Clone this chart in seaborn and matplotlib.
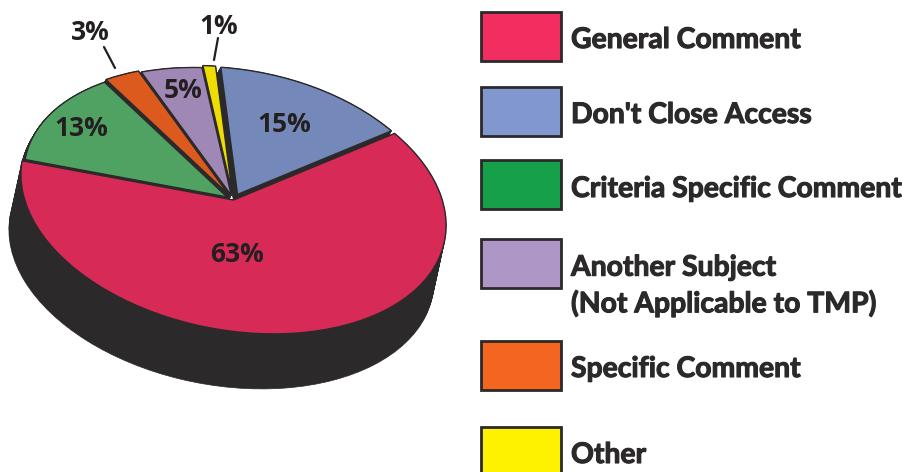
import numpy as np
import seaborn as sns
import matplotlib
matplotlib.use("Agg")
import matplotlib.pyplot as plt
import matplotlib.patheffects as pe
from matplotlib.patches import Rectangle
from matplotlib.transforms import Affine2D

sns.set_theme(style="white")
plt.rcParams['font.family'] = ['Open Sans', 'DejaVu Sans']

# values, counter clockwise starting with the big slice
categories = ["General Comment", "Don't Close Access", "Other", "Another Subject", "Specific Comment", "Criteria Specific Comment"]
values = [63, 15, 1, 5, 3, 13]
top_colors = ["#D82A57", "#7488BA", "#EDDD00", "#9F88B5", "#DC5A1E", "#50A263"]
explode = [0, 0.05, 0.05, 0.035, 0.045, 0.035]

legend_labels = ["General Comment", "Don't Close Access", "Criteria Specific Comment",
                 "Another Subject\n(Not Applicable to TMP)", "Specific Comment", "Other"]
legend_colors = ["#F22E60", "#8197CF", "#16A04A", "#AE97C7", "#F46520", "#FFF200"]

DARK = "#2B292A"
W, H = 903, 472

fig = plt.figure(figsize=(W / 100, H / 100), dpi=100)
ax = fig.add_axes([0, 0, 1, 1])


def flip(y):
    # picture coordinates run downwards
    return H - y


def disc(dx=0, dy=0):
    # unit circle -> tilted ellipse on the page
    return (Affine2D().scale(215, 130).rotate_deg(-10.8).translate(233.5 + dx, flip(200) - dy)
            + ax.transData)


def draw_layer(colors, idx, dx, dy, z, lw, radius=1):
    wedges, _ = ax.pie(values, explode=explode, colors=colors, startangle=180.5, counterclock=True,
                       radius=radius, frame=True, wedgeprops={'edgecolor': DARK, 'linewidth': lw})
    for i, w in enumerate(wedges):
        if i in idx:
            w.set_transform(disc(dx, dy))
            w.set_zorder(z)
        else:
            w.remove()


# side of the pie: dark copies going down, small slices first so the big one covers them
others = [1, 2, 3, 4, 5]
dark_colors = [DARK] * len(values)
for t in np.linspace(0, 1, 40):
    draw_layer(dark_colors, others, -4 * t, 7 * t, 1, 0.5, radius=0.955)
    draw_layer(dark_colors, [0], -12 * t, 55 * t, 3, 0.5)

draw_layer(top_colors, others, 0, 0, 2, 1.0, radius=0.955)

# thin facet lines on the side
for ang in np.radians(list(range(196, 266, 10)) + [300, 320, 332, 342]):
    p0 = disc().transform((np.cos(ang), np.sin(ang)))
    p1 = disc(-12, 55).transform((np.cos(ang), np.sin(ang)))
    ax.annotate("", xy=p1, xytext=p0, xycoords='figure pixels', textcoords='figure pixels',
                arrowprops=dict(arrowstyle='-', color="#6B2A40", lw=0.6, ls=(0, (4, 1))), zorder=4)

draw_layer(top_colors, [0], 0, 0, 5, 1.0)

# percent labels
pct_font = dict(fontsize=19, fontweight='bold', color="#231F20", ha='center', va='center', zorder=6)
ax.text(237, flip(255), "63%", **pct_font)
ax.text(284, flip(124), "15%", **pct_font)
ax.text(81, flip(129), "13%", **pct_font)
ax.text(183, flip(90), "5%", **pct_font)
ax.text(90, flip(33), "3%", **pct_font)
ax.text(219, flip(26), "1%", **pct_font)
ax.plot([104, 115], [flip(47), flip(68)], color="#231F20", lw=1.6, zorder=6)
ax.plot([218, 214], [flip(38), flip(60)], color="#231F20", lw=1.6, zorder=6)

# legend by hand, boxes are not evenly spaced in the original
box_top = [12, 87, 160, 239, 341, 427]
text_y = [40, 115, 189, 286, 369, 455]
for lab, col, top, ty in zip(legend_labels, legend_colors, box_top, text_y):
    ax.add_patch(Rectangle((481, flip(top + 49)), 80, 49, facecolor=col, edgecolor=DARK, lw=2, zorder=6))
    ax.text(571, flip(ty), lab, fontsize=20.4, fontfamily=['Lato', 'DejaVu Sans'], fontweight='bold', color=DARK,
            ha='left', va='center', linespacing=1.4, zorder=6,
            path_effects=[pe.withStroke(linewidth=0.8, foreground=DARK)])

ax.set_aspect('auto')
ax.set_xlim(0, W)
ax.set_ylim(0, H)
ax.axis('off')

fig.savefig("out.png", dpi=100)
